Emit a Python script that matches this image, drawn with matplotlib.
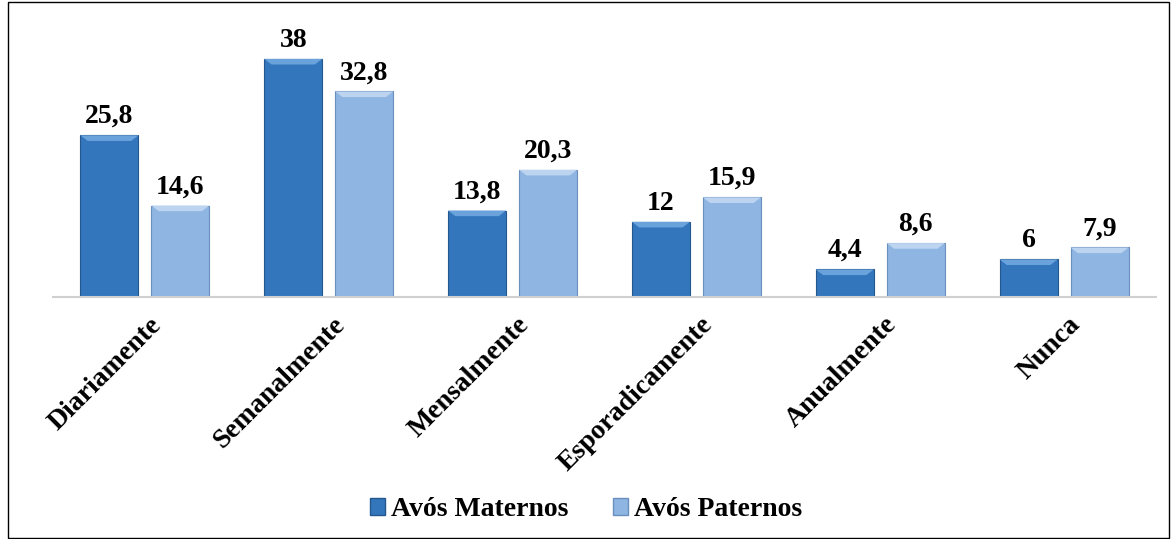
import numpy as np
import matplotlib.pyplot as plt
from matplotlib.patches import Rectangle, Patch, Polygon

# dados
categorias = ['Diariamente', 'Semanalmente', 'Mensalmente', 'Esporadicamente', 'Anualmente', 'Nunca']
maternos = [25.8, 38, 13.8, 12, 4.4, 6]
paternos = [14.6, 32.8, 20.3, 15.9, 8.6, 7.9]
series = ['Avós Maternos', 'Avós Paternos']

cor_mat = '#3376BC'
cor_pat = '#8FB5E2'
fonte = 'Liberation Serif'

W, H = 1172, 539
fig = plt.figure(figsize=(W / 100, H / 100), dpi=100)

# moldura do grafico
fig.patches.append(Rectangle((8 / W, 1 / H), 1161 / W, 536 / H, transform=fig.transFigure,
                             fill=False, edgecolor='black', linewidth=1))

ax = fig.add_axes([53 / W, (H - 297) / H, 1103 / W, 277 / H])
x = np.arange(len(categorias))
larg = 0.316
desl = 0.193

b1 = ax.bar(x - desl, maternos, larg, color=cor_mat, edgecolor='#24578E', linewidth=0.8, zorder=2)
b2 = ax.bar(x + desl, paternos, larg, color=cor_pat, edgecolor='#6A8FBD', linewidth=0.8, zorder=2)

# relevo (bisel) no topo das barras
for barras, claro in ((b1, '#6AA3DC'), (b2, '#BCD4F0')):
    for b in barras:
        x0, w, h = b.get_x(), b.get_width(), b.get_height()
        d = min(0.9, h * 0.3)
        ax.add_patch(Polygon([(x0, h), (x0 + w, h), (x0 + w - 0.04, h - d), (x0 + 0.04, h - d)],
                             closed=True, facecolor=claro, edgecolor='none', zorder=3))

for barras, vals in ((b1, maternos), (b2, paternos)):
    for b, v in zip(barras, vals):
        txt = ('%g' % v).replace('.', ',')
        ax.text(b.get_x() + b.get_width() / 2, v + 1.0, txt, ha='center', va='bottom',
                fontsize=20, fontweight='bold', family=fonte)

ax.set_xlim(-0.5, len(categorias) - 0.5)
ax.set_ylim(0, 44.2)
ax.set_yticks([])
for s in ['top', 'right', 'left']:
    ax.spines[s].set_visible(False)
ax.spines['bottom'].set_color('#D0D0D0')
ax.spines['bottom'].set_linewidth(1.5)
ax.tick_params(axis='x', length=0, pad=11)
ax.set_xticks(x + 0.02)
ax.set_xticklabels(categorias, rotation=45, ha='right', va='top', rotation_mode='anchor',
                   fontsize=20, fontweight='bold', family=fonte)

handles = [Patch(facecolor=cor_mat, edgecolor='#24578E'), Patch(facecolor=cor_pat, edgecolor='#6A8FBD')]
fig.legend(handles, series, loc='center', bbox_to_anchor=(0.5, (H - 510) / H), ncol=2, frameon=False,
           prop={'family': fonte, 'weight': 'bold', 'size': 20}, handlelength=0.55, handleheight=0.55,
           handletextpad=0.2, columnspacing=1.6)

fig.savefig('out.png', dpi=100)
